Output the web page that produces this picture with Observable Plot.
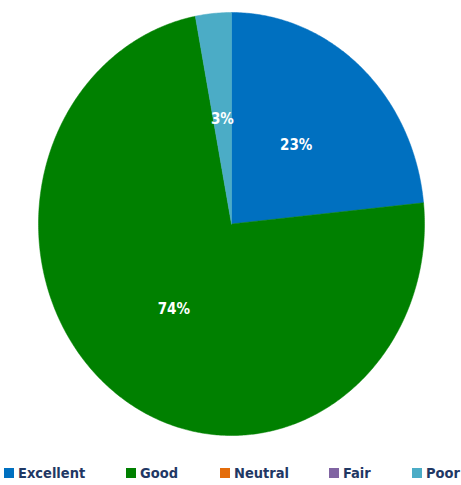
<!DOCTYPE html>
<html>
<head>
<meta charset="utf-8">
<script src="https://cdn.jsdelivr.net/npm/d3@7"></script>
<script src="https://cdn.jsdelivr.net/npm/@observablehq/plot@0.6"></script>
<style>
  html, body { margin: 0; padding: 0; background: #fff; }
  #wrap { position: relative; width: 461px; height: 485px; }
  #legend { position: absolute; left: 0; top: 462px; width: 461px; height: 22px;
    font-family: "Liberation Sans Narrow", "DejaVu Sans Condensed", "Open Sans", sans-serif;
    font-weight: bold; font-size: 14.5px; color: #1F3864; }
  .item { position: absolute; top: 0; display: flex; align-items: center; height: 22px; }
  .sw { width: 10px; height: 10px; margin-right: 4px; }
</style>
</head>
<body>
<div id="wrap">
  <div id="chart"></div>
  <div id="legend"></div>
</div>
<script>
const categories = ["Excellent", "Good", "Neutral", "Fair", "Poor"];
const values = [23.4, 73.6, 0, 0, 3.0];
const colors = ["#0070C0", "#008000", "#E46C0A", "#8064A2", "#4BACC6"];
const legendX = [4, 126, 220, 329, 412];

const data = categories.map((c, i) => ({category: c, value: values[i]}));
const arcs = d3.pie().sort(null).value(d => d.value)(data);

// Sample arc outlines from the pie angles (0 = top, clockwise)
const outline = [];
for (const a of arcs) {
  if (a.endAngle - a.startAngle <= 0) continue;
  outline.push({category: a.data.category, x: 0, y: 0});
  const n = Math.max(2, Math.ceil((a.endAngle - a.startAngle) / 0.01));
  for (let k = 0; k <= n; k++) {
    const t = a.startAngle + (a.endAngle - a.startAngle) * k / n;
    outline.push({category: a.data.category, x: Math.sin(t), y: Math.cos(t)});
  }
  outline.push({category: a.data.category, x: 0, y: 0});
}
const labels = arcs.filter(a => a.value > 0).map(a => {
  const m = (a.startAngle + a.endAngle) / 2;
  return {x: 0.5 * Math.sin(m), y: 0.5 * Math.cos(m), text: Math.round(a.value) + "%"};
});

const chart = Plot.plot({
  width: 461,
  height: 448,
  marginLeft: 38,
  marginRight: 37,
  marginTop: 12,
  marginBottom: 13,
  x: {domain: [-1, 1], axis: null},
  y: {domain: [-1, 1], axis: null},
  color: {domain: categories, range: colors},
  marks: [
    Plot.line(outline, {x: "x", y: "y", z: "category", fill: "category", stroke: "category", strokeWidth: 0.5, curve: "linear"}),
    Plot.text(labels, {x: "x", y: "y", text: "text", fill: "white", fontWeight: "bold", fontSize: 15,
      fontFamily: "'Liberation Sans Narrow', 'DejaVu Sans Condensed', sans-serif"})
  ]
});
document.getElementById("chart").appendChild(chart);

const legend = document.getElementById("legend");
categories.forEach((c, i) => {
  const it = document.createElement("div");
  it.className = "item";
  it.style.left = legendX[i] + "px";
  const sw = document.createElement("span");
  sw.className = "sw";
  sw.style.background = colors[i];
  const tx = document.createElement("span");
  tx.textContent = c;
  it.appendChild(sw); it.appendChild(tx);
  legend.appendChild(it);
});
</script>
</body>
</html>
